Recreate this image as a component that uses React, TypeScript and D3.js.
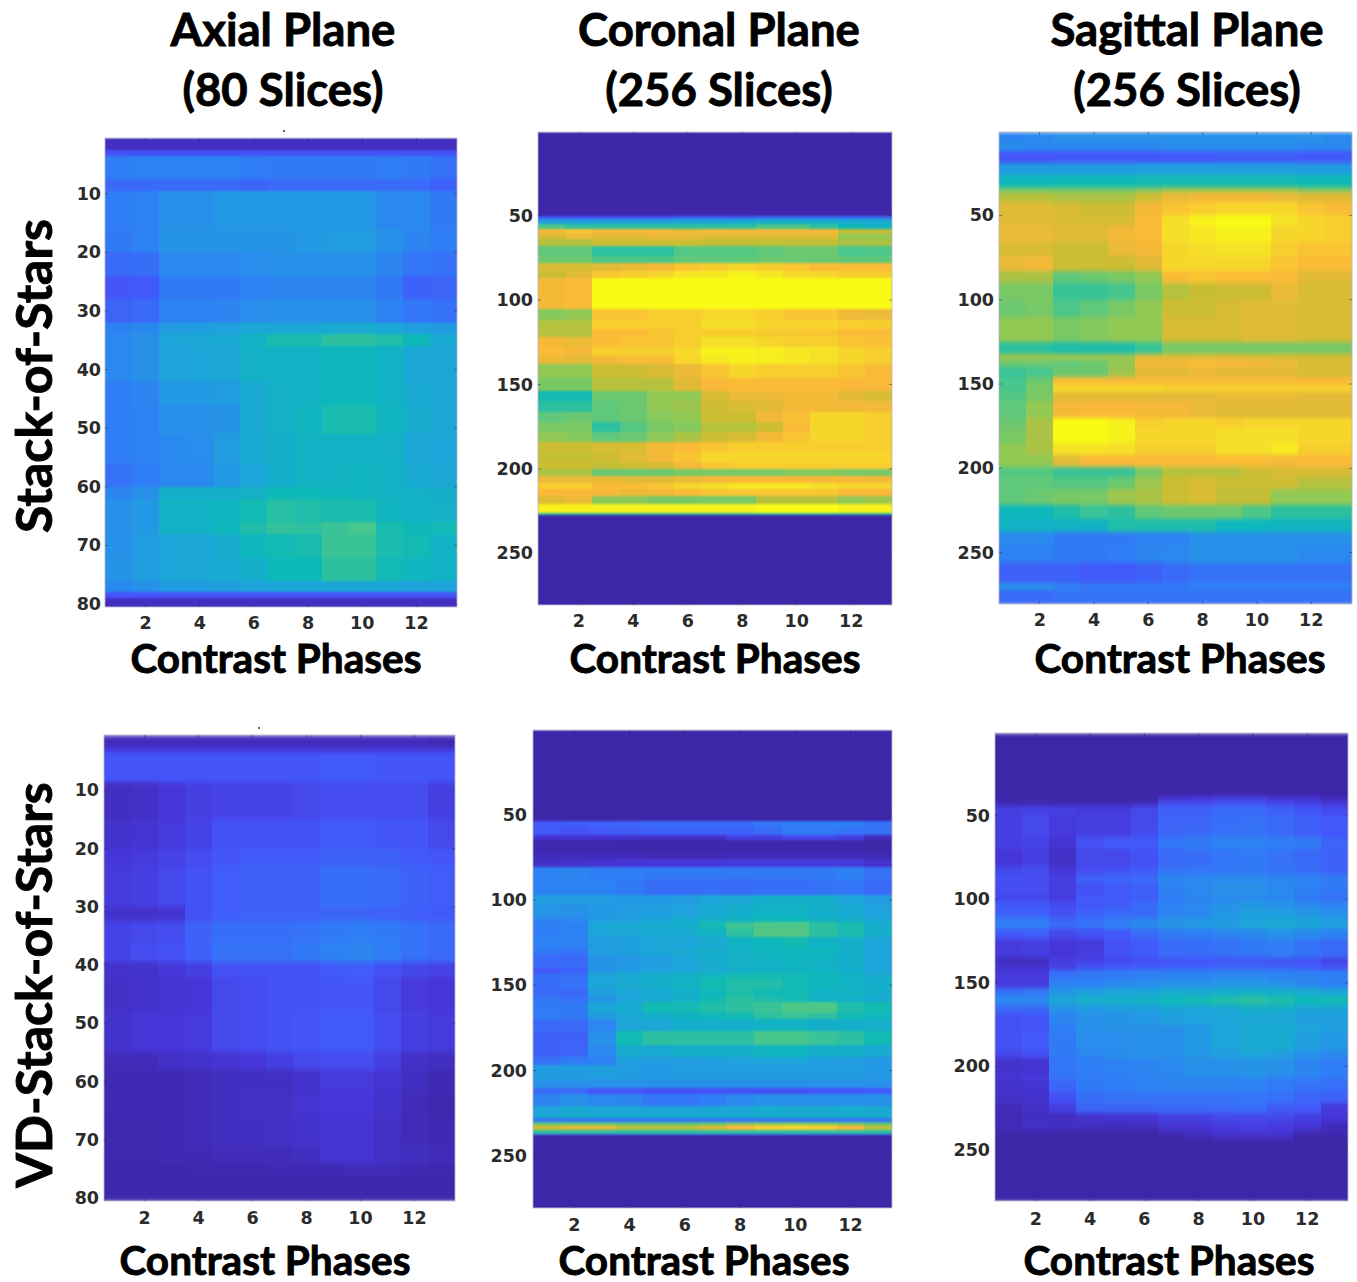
import React from "react";
import * as d3 from "d3";

// Each row: [last slice of the band, phase 1 … phase 13] with values on a 0–1 intensity scale
const phases = [1, 2, 3, 4, 5, 6, 7, 8, 9, 10, 11, 12, 13];
const phaseTicks = [2, 4, 6, 8, 10, 12];
const axialTicks = [10, 20, 30, 40, 50, 60, 70, 80];
const sliceTicks = [50, 100, 150, 200, 250];
const titleLines = [["Axial Plane", "(80 Slices)"], ["Coronal Plane", "(256 Slices)"], ["Sagittal Plane", "(256 Slices)"]];
const rowLabels = ["Stack-of-Stars", "VD-Stack-of-Stars"];
const xLabel = "Contrast Phases";

const axialSoS = [
  [2.5, .04,.04,.04,.04,.04,.04,.04,.04,.04,.04,.04,.04,.04],
  [3.5, .14,.14,.14,.14,.14,.14,.14,.14,.14,.14,.14,.14,.14],
  [7.5, .25,.26,.26,.26,.26,.25,.24,.24,.24,.24,.25,.24,.22],
  [9.5, .2,.2,.2,.2,.2,.19,.2,.2,.2,.2,.2,.2,.18],
  [16, .25,.26,.3,.3,.32,.32,.32,.32,.32,.32,.28,.28,.24],
  [20, .24,.26,.31,.31,.31,.31,.31,.32,.33,.33,.3,.27,.25],
  [24, .2,.21,.28,.28,.28,.29,.3,.3,.3,.3,.27,.23,.22],
  [28, .15,.16,.24,.24,.24,.26,.27,.27,.27,.27,.24,.18,.19],
  [32, .19,.2,.26,.26,.27,.29,.3,.3,.3,.3,.26,.23,.22],
  [34, .26,.28,.33,.34,.35,.37,.37,.37,.38,.38,.37,.34,.33],
  [36, .28,.3,.36,.37,.38,.42,.47,.47,.5,.5,.48,.45,.38],
  [42, .28,.3,.35,.36,.37,.41,.42,.42,.44,.44,.42,.37,.37],
  [46, .25,.27,.32,.32,.33,.38,.41,.42,.44,.44,.42,.38,.37],
  [51, .25,.26,.3,.3,.31,.38,.41,.43,.47,.47,.43,.39,.37],
  [56, .25,.26,.28,.29,.33,.38,.4,.42,.42,.42,.41,.37,.36],
  [60, .22,.25,.28,.28,.32,.36,.4,.42,.42,.43,.42,.38,.37],
  [62, .27,.3,.4,.4,.4,.41,.45,.45,.44,.43,.42,.41,.4],
  [66, .3,.32,.42,.42,.43,.46,.49,.48,.47,.47,.43,.42,.41],
  [68, .3,.32,.42,.42,.44,.48,.51,.5,.52,.54,.47,.45,.46],
  [72, .3,.33,.36,.37,.39,.44,.46,.47,.52,.52,.47,.46,.42],
  [76, .31,.33,.36,.37,.38,.4,.45,.45,.5,.5,.46,.43,.42],
  [78, .28,.3,.33,.33,.34,.35,.36,.36,.37,.37,.36,.35,.35],
  [79, .15,.15,.15,.15,.15,.15,.15,.15,.15,.15,.15,.15,.15],
  [80.5, .04,.04,.04,.04,.04,.04,.04,.04,.04,.04,.04,.04,.04],
];

const coronalSoS = [
  [50, 0,0,0,0,0,0,0,0,0,0,0,0,0],
  [52, .15,.15,.16,.16,.16,.18,.18,.18,.2,.2,.2,.2,.2],
  [55, .34,.34,.34,.34,.34,.36,.36,.38,.4,.4,.4,.38,.38],
  [58, .55,.5,.5,.5,.5,.5,.5,.5,.55,.55,.5,.45,.42],
  [61, .84,.88,.84,.84,.84,.82,.84,.84,.84,.84,.84,.74,.74],
  [64, .78,.82,.8,.8,.82,.82,.8,.8,.8,.8,.8,.66,.66],
  [68, .72,.72,.76,.76,.76,.76,.74,.74,.74,.74,.74,.7,.7],
  [74, .58,.58,.5,.5,.5,.56,.56,.56,.58,.6,.6,.54,.55],
  [78, .6,.6,.55,.55,.55,.58,.58,.58,.6,.6,.6,.58,.58],
  [83, .78,.78,.8,.82,.84,.88,.9,.92,.9,.88,.86,.86,.86],
  [87, .75,.8,.88,.9,.92,.96,.96,.98,.96,.93,.92,.9,.9],
  [105, .84,.86,1,1,1,1,1,1,1,1,1,1,1],
  [112, .64,.66,.88,.88,.9,.9,.92,.92,.9,.88,.88,.83,.82],
  [117, .72,.72,.9,.9,.9,.9,.94,.94,.92,.92,.92,.9,.9],
  [122, .72,.72,.86,.86,.88,.9,.9,.9,.89,.89,.88,.86,.86],
  [128, .84,.82,.86,.88,.88,.9,.94,.94,.92,.9,.9,.88,.87],
  [133, .86,.84,.9,.9,.9,.93,.98,.98,.97,.96,.95,.92,.9],
  [138, .82,.8,.84,.86,.86,.92,.96,.98,.97,.96,.94,.92,.9],
  [146, .66,.66,.76,.76,.78,.82,.88,.92,.9,.9,.9,.88,.86],
  [154, .62,.62,.72,.72,.72,.8,.85,.86,.86,.86,.86,.85,.85],
  [160, .46,.46,.6,.6,.66,.66,.78,.82,.82,.84,.84,.8,.78],
  [166, .5,.5,.58,.6,.66,.68,.76,.78,.8,.84,.84,.84,.84],
  [172, .58,.6,.58,.6,.64,.66,.76,.76,.84,.87,.92,.92,.9],
  [178, .62,.62,.5,.56,.62,.64,.72,.72,.76,.86,.92,.92,.9],
  [184, .66,.64,.58,.6,.65,.7,.76,.78,.84,.88,.92,.92,.9],
  [190, .76,.76,.78,.78,.84,.86,.88,.9,.9,.9,.9,.9,.9],
  [196, .74,.74,.76,.8,.84,.88,.92,.92,.92,.92,.92,.92,.92],
  [200, .76,.76,.74,.76,.78,.84,.88,.9,.9,.9,.9,.9,.9],
  [204, .7,.7,.6,.6,.6,.62,.62,.62,.62,.64,.64,.62,.62],
  [208, .82,.82,.82,.8,.8,.82,.85,.85,.85,.85,.85,.85,.84],
  [212, .9,.9,.86,.86,.88,.92,.94,.96,.96,.96,.94,.92,.92],
  [216, .85,.85,.85,.82,.84,.86,.88,.88,.88,.88,.88,.85,.85],
  [221, .8,.82,.65,.65,.62,.62,.62,.62,.72,.72,.72,.66,.68],
  [226, .98,.98,.98,.98,.98,.98,.98,.98,1,1,1,.98,.98],
  [227, .5,.5,.5,.5,.5,.5,.5,.5,.5,.5,.5,.5,.5],
  [280.5, 0,0,0,0,0,0,0,0,0,0,0,0,0],
];

const sagittalSoS = [
  [6, .26,.28,.3,.3,.3,.3,.3,.3,.3,.3,.3,.3,.28],
  [12, .29,.28,.28,.28,.28,.28,.29,.29,.29,.29,.29,.28,.28],
  [19, .15,.15,.16,.16,.16,.16,.16,.16,.17,.17,.17,.16,.16],
  [26, .33,.33,.33,.33,.33,.34,.34,.34,.34,.34,.34,.33,.33],
  [33, .44,.44,.45,.45,.45,.46,.46,.46,.46,.46,.46,.45,.45],
  [36, .6,.6,.6,.6,.6,.62,.66,.66,.66,.66,.66,.62,.62],
  [42, .72,.72,.7,.7,.7,.76,.82,.84,.84,.84,.82,.8,.8],
  [50, .8,.8,.78,.76,.76,.84,.88,.9,.92,.92,.92,.88,.86],
  [56, .8,.8,.78,.78,.78,.86,.94,.98,1,1,.95,.92,.9],
  [66, .82,.82,.8,.8,.84,.86,.94,.96,.98,.98,.92,.92,.9],
  [74, .78,.78,.76,.76,.82,.84,.92,.94,.95,.95,.9,.88,.88],
  [83, .82,.84,.76,.76,.76,.8,.92,.92,.92,.92,.88,.86,.86],
  [90, .7,.7,.58,.6,.62,.66,.86,.88,.86,.86,.86,.8,.8],
  [100, .62,.62,.52,.52,.54,.62,.72,.75,.76,.76,.82,.78,.78],
  [110, .6,.62,.55,.58,.62,.66,.76,.76,.78,.8,.8,.78,.78],
  [125, .66,.66,.62,.64,.66,.66,.78,.78,.78,.8,.8,.78,.78],
  [132, .5,.5,.48,.48,.48,.52,.62,.62,.62,.62,.62,.62,.62],
  [136, .68,.68,.68,.68,.68,.8,.8,.8,.8,.78,.78,.78,.78],
  [140, .6,.6,.58,.6,.66,.84,.84,.86,.85,.84,.82,.78,.78],
  [146, .52,.54,.6,.6,.68,.8,.8,.82,.8,.8,.8,.78,.78],
  [150, .54,.6,.86,.86,.85,.85,.85,.85,.85,.85,.85,.85,.85],
  [155, .54,.62,.92,.92,.92,.92,.9,.9,.9,.9,.9,.9,.9],
  [160, .56,.62,.8,.8,.8,.8,.8,.8,.82,.82,.82,.8,.8],
  [170, .58,.66,.84,.85,.85,.84,.84,.82,.8,.8,.8,.8,.8],
  [176, .6,.7,1,1,.98,.9,.92,.92,.9,.92,.92,.92,.92],
  [185, .62,.7,1,1,.98,.92,.92,.92,.94,.94,.94,.92,.92],
  [192, .66,.7,.95,.95,.94,.9,.9,.9,.94,.94,.96,.9,.9],
  [199, .66,.66,.8,.85,.85,.86,.86,.86,.86,.86,.84,.86,.86],
  [205, .56,.56,.52,.52,.52,.62,.72,.72,.72,.76,.78,.78,.78],
  [212, .58,.58,.56,.56,.6,.68,.76,.78,.76,.76,.76,.72,.72],
  [222, .58,.6,.62,.62,.68,.7,.76,.78,.74,.74,.66,.66,.66],
  [230, .44,.44,.48,.52,.5,.58,.6,.6,.6,.55,.5,.5,.5],
  [238, .42,.42,.42,.42,.48,.48,.48,.48,.44,.44,.43,.43,.43],
  [246, .28,.28,.24,.24,.24,.26,.26,.3,.3,.3,.3,.3,.3],
  [256, .26,.26,.24,.24,.25,.27,.28,.3,.3,.3,.3,.28,.28],
  [268, .18,.18,.18,.16,.16,.18,.2,.22,.22,.22,.22,.22,.22],
  [272, .3,.3,.26,.24,.24,.24,.24,.26,.26,.26,.26,.26,.26],
  [280.5, .2,.2,.22,.22,.22,.22,.22,.22,.22,.22,.22,.22,.22],
];

const axialVD = [
  [2.5, .03,.03,.03,.03,.03,.03,.03,.03,.03,.03,.03,.03,.02],
  [3.5, .08,.08,.08,.08,.08,.08,.08,.08,.08,.08,.08,.08,.08],
  [8.5, .15,.15,.15,.15,.15,.15,.15,.15,.16,.16,.15,.15,.15],
  [15, .04,.05,.08,.1,.11,.11,.11,.12,.13,.13,.13,.13,.1],
  [20, .06,.07,.09,.11,.14,.14,.14,.14,.16,.16,.15,.15,.12],
  [23, .08,.09,.11,.13,.15,.16,.16,.16,.18,.18,.18,.16,.15],
  [30, .09,.1,.12,.14,.17,.18,.18,.18,.21,.21,.2,.18,.17],
  [32.5, .06,.06,.07,.14,.17,.18,.18,.18,.19,.19,.18,.17,.16],
  [36, .11,.12,.13,.18,.21,.21,.21,.22,.24,.25,.24,.22,.2],
  [39.5, .11,.13,.14,.18,.22,.22,.22,.24,.26,.27,.25,.22,.2],
  [42, .06,.06,.08,.1,.14,.14,.14,.14,.16,.17,.14,.12,.11],
  [48, .05,.06,.07,.08,.12,.13,.14,.14,.15,.15,.12,.09,.08],
  [55, .06,.08,.08,.09,.12,.13,.14,.15,.16,.16,.13,.1,.09],
  [58, .03,.03,.05,.06,.07,.08,.1,.12,.13,.13,.1,.05,.04],
  [62, .02,.02,.02,.03,.04,.04,.04,.06,.09,.09,.07,.04,.02],
  [66, .02,.02,.02,.03,.04,.05,.05,.07,.08,.08,.06,.03,.01],
  [71, .01,.01,.02,.03,.04,.04,.05,.06,.07,.07,.05,.03,.02],
  [74, .01,.01,.02,.02,.03,.03,.03,.04,.07,.07,.05,.04,.03],
  [76, .005,.005,.005,.01,.01,.01,.02,.02,.02,.03,.03,.02,.01],
  [80.5, .005,.005,.005,.005,.005,.005,.005,.005,.005,.005,.005,.005,.005],
];

const coronalVD = [
  [54, 0,0,0,0,0,0,0,0,0,0,0,0,0],
  [58, .16,.17,.18,.19,.2,.2,.2,.2,.23,.25,.25,.25,.22],
  [62, .16,.14,.16,.17,.18,.18,.18,.18,.2,.24,.24,.22,.22],
  [65, .07,.07,.07,.06,.05,.05,.05,.1,.1,.12,.12,.1,.04],
  [72, .01,.01,.01,.005,.005,.005,.005,.01,.01,.01,.01,.01,0],
  [76, .03,.03,.03,.03,.02,.02,.02,.03,.03,.03,.03,.03,.02],
  [81, .05,.06,.07,.08,.08,.08,.08,.09,.09,.09,.09,.09,.06],
  [88, .26,.27,.25,.25,.24,.24,.24,.24,.24,.24,.24,.26,.22],
  [97, .26,.26,.26,.24,.21,.21,.21,.2,.21,.21,.22,.23,.2],
  [103, .33,.33,.33,.32,.32,.33,.36,.37,.4,.4,.4,.36,.33],
  [110, .31,.3,.32,.33,.34,.35,.38,.4,.42,.42,.4,.38,.35],
  [113, .27,.28,.33,.34,.36,.38,.4,.42,.44,.45,.42,.4,.37],
  [117, .25,.26,.37,.38,.39,.4,.46,.52,.55,.55,.5,.47,.4],
  [122, .25,.26,.36,.37,.38,.38,.42,.5,.56,.56,.5,.47,.4],
  [128, .26,.26,.33,.34,.36,.36,.38,.42,.44,.46,.42,.4,.36],
  [132, .24,.23,.34,.35,.37,.38,.4,.41,.44,.44,.44,.4,.36],
  [140, .2,.2,.31,.32,.34,.36,.39,.41,.42,.43,.42,.4,.36],
  [143, .15,.18,.31,.33,.35,.36,.38,.4,.41,.42,.42,.4,.36],
  [146, .2,.21,.36,.38,.4,.42,.43,.46,.46,.46,.44,.42,.38],
  [152, .21,.22,.36,.38,.4,.42,.46,.48,.48,.46,.44,.42,.4],
  [157, .2,.2,.34,.36,.38,.4,.44,.48,.46,.46,.42,.42,.4],
  [160, .24,.22,.3,.36,.38,.4,.46,.5,.48,.46,.42,.4,.38],
  [166, .24,.24,.36,.38,.46,.46,.48,.5,.52,.55,.55,.48,.46],
  [170, .25,.24,.33,.37,.4,.42,.44,.46,.5,.52,.5,.46,.44],
  [177, .2,.2,.27,.36,.37,.4,.4,.4,.42,.42,.4,.4,.4],
  [185, .18,.18,.3,.46,.5,.5,.5,.5,.54,.54,.52,.5,.46],
  [192, .18,.19,.28,.39,.38,.4,.4,.4,.43,.43,.4,.4,.38],
  [197, .22,.25,.26,.34,.33,.33,.34,.35,.36,.36,.34,.33,.32],
  [205, .33,.33,.34,.33,.32,.33,.33,.33,.33,.33,.33,.33,.32],
  [210, .3,.3,.3,.3,.3,.3,.3,.3,.3,.3,.3,.3,.3],
  [214, .2,.2,.15,.15,.14,.14,.14,.14,.14,.14,.15,.15,.16],
  [221, .27,.3,.28,.27,.23,.23,.25,.28,.3,.3,.3,.3,.3],
  [226, .35,.38,.36,.36,.36,.37,.37,.37,.39,.38,.38,.39,.38],
  [228, .4,.4,.4,.4,.4,.4,.4,.4,.4,.4,.4,.4,.4],
  [230, .22,.22,.22,.22,.22,.22,.22,.22,.22,.22,.22,.22,.22],
  [232, .55,.55,.55,.55,.55,.55,.55,.6,.6,.6,.6,.58,.55],
  [235, .76,.8,.8,.72,.72,.72,.78,.85,.9,.92,.9,.84,.72],
  [237, .5,.5,.5,.5,.5,.5,.5,.5,.5,.5,.5,.5,.5],
  [238, .2,.2,.2,.2,.2,.2,.2,.2,.2,.2,.2,.2,.2],
  [280.5, 0,0,0,0,0,0,0,0,0,0,0,0,0],
];

const sagittalVD = [
  [38, 0,0,0,0,0,0,0,0,0,0,0,0,0],
  [41, 0,0,0,0,0,0,.06,.08,.1,.1,.07,.07,.03],
  [44, .02,.02,.02,.02,.02,.04,.13,.13,.14,.14,.12,.1,.08],
  [50, .1,.11,.1,.09,.09,.12,.18,.18,.2,.2,.18,.15,.13],
  [58, .1,.12,.09,.1,.1,.12,.19,.19,.21,.22,.2,.18,.16],
  [63, .1,.12,.09,.1,.1,.13,.19,.2,.22,.22,.2,.17,.15],
  [70, .1,.11,.07,.14,.16,.16,.23,.24,.26,.26,.25,.24,.19],
  [80, .08,.1,.05,.12,.12,.14,.2,.21,.23,.24,.22,.2,.18],
  [85, .12,.13,.08,.13,.14,.16,.22,.23,.23,.24,.22,.21,.18],
  [90, .14,.13,.1,.18,.19,.2,.27,.27,.28,.28,.27,.26,.24],
  [97, .13,.13,.1,.14,.16,.18,.26,.28,.3,.3,.28,.26,.24],
  [101, .12,.12,.09,.15,.16,.17,.24,.26,.28,.28,.28,.24,.22],
  [106, .16,.16,.13,.16,.17,.2,.26,.28,.3,.32,.3,.28,.26],
  [111, .18,.18,.14,.18,.2,.2,.27,.28,.32,.34,.34,.32,.3],
  [118, .25,.25,.2,.22,.25,.28,.31,.32,.33,.36,.37,.36,.34],
  [124, .16,.17,.12,.14,.16,.2,.24,.25,.27,.28,.3,.28,.26],
  [132, .09,.1,.08,.09,.14,.16,.2,.21,.22,.24,.25,.22,.2],
  [135, .09,.1,.08,.1,.14,.16,.2,.2,.21,.22,.24,.22,.2],
  [138, .03,.03,.1,.1,.12,.13,.14,.15,.15,.15,.14,.14,.1],
  [142, .06,.06,.1,.14,.15,.16,.17,.17,.18,.18,.18,.16,.14],
  [148, .09,.09,.22,.24,.25,.26,.27,.27,.28,.28,.27,.26,.25],
  [153, .09,.09,.26,.26,.28,.29,.3,.3,.32,.32,.3,.28,.26],
  [158, .22,.24,.32,.34,.36,.36,.38,.38,.4,.4,.4,.38,.36],
  [163, .28,.28,.36,.4,.4,.42,.44,.46,.48,.5,.48,.45,.46],
  [168, .2,.2,.3,.32,.33,.34,.36,.36,.37,.4,.4,.36,.36],
  [175, .14,.15,.27,.3,.31,.32,.34,.35,.36,.37,.37,.34,.34],
  [180, .14,.15,.25,.3,.3,.3,.3,.32,.36,.38,.38,.36,.34],
  [190, .14,.16,.24,.29,.29,.3,.3,.32,.36,.38,.38,.34,.32],
  [195, .12,.14,.24,.27,.29,.3,.3,.32,.34,.36,.34,.3,.28],
  [205, .06,.07,.23,.25,.26,.27,.28,.3,.3,.31,.3,.27,.25],
  [208, .08,.09,.22,.24,.25,.26,.27,.28,.28,.29,.27,.26,.24],
  [215, .06,.07,.19,.24,.25,.26,.27,.27,.27,.26,.24,.22,.21],
  [222, .05,.06,.14,.21,.22,.22,.22,.22,.22,.23,.22,.19,.18],
  [228, .03,.05,.1,.19,.19,.19,.2,.2,.2,.21,.17,.16,.09],
  [233, .02,.04,.04,.06,.07,.07,.1,.1,.12,.12,.12,.1,.08],
  [238, .03,.05,.04,.04,.03,.04,.07,.07,.09,.1,.09,.08,.03],
  [241, .005,.01,.005,.005,.005,.005,.03,.05,.08,.08,.08,.02,.02],
  [244, 0,0,0,0,0,0,0,.02,.04,.04,.04,0,0],
  [280.5, 0,0,0,0,0,0,0,0,0,0,0,0,0],
];

const parulaStops = [0, .08, .15, .25, .35, .45, .55, .65, .75, .85, .95, 1];
const parulaColors = ["#3e26a8", "#4636d8", "#4455fa", "#2f7ef6", "#1ea3dc", "#0cb9b8", "#4dc788", "#8cc958", "#c8bd32", "#fab839", "#f5e326", "#f9fb15"];
const color = d3.scaleLinear<string>().domain(parulaStops).range(parulaColors).clamp(true);

const panels = [
  { id: "a", bands: axialSoS, ticks: axialTicks, yMax: 80.5, blur: "0.5 1.2", x0: 105, x1: 457, y0: 138, y1: 607, tickX: 101, xTickY: 623, label: [276, 657] },
  { id: "b", bands: coronalSoS, ticks: sliceTicks, yMax: 280.5, blur: "0.5 0.9", x0: 538, x1: 892, y0: 132, y1: 605, tickX: 533, xTickY: 621, label: [715, 657] },
  { id: "c", bands: sagittalSoS, ticks: sliceTicks, yMax: 280.5, blur: "0.5 2", x0: 999, x1: 1352, y0: 132, y1: 604, tickX: 994, xTickY: 620, label: [1180, 657] },
  { id: "d", bands: axialVD, ticks: axialTicks, yMax: 80.5, blur: "0.6 2.4", x0: 104, x1: 455, y0: 735, y1: 1201, tickX: 99, xTickY: 1218, label: [265, 1259] },
  { id: "e", bands: coronalVD, ticks: sliceTicks, yMax: 280.5, blur: "0.5 1", x0: 533, x1: 892, y0: 730, y1: 1208, tickX: 527, xTickY: 1225, label: [704, 1259] },
  { id: "f", bands: sagittalVD, ticks: sliceTicks, yMax: 280.5, blur: "0.6 2", x0: 995, x1: 1348, y0: 733, y1: 1201, tickX: 990, xTickY: 1219, label: [1169, 1259] },
];

const headFont = "Lato, 'Open Sans', sans-serif";
const tickFont = "'DejaVu Sans', sans-serif";
const heavy = { stroke: "#000", strokeWidth: 0.9, paintOrder: "stroke" } as const;

function Panel({ p }: { p: (typeof panels)[number] }) {
  const x = d3.scaleLinear().domain([0.5, 13.5]).range([p.x0, p.x1]);
  const y = d3.scaleLinear().domain([0.5, p.yMax]).range([p.y0, p.y1]);
  return (
    <g>
      <clipPath id={`clip-${p.id}`}>
        <rect x={p.x0} y={p.y0} width={p.x1 - p.x0} height={p.y1 - p.y0} />
      </clipPath>
      <filter id={`soft-${p.id}`} x="0" y="0" width="100%" height="100%" colorInterpolationFilters="sRGB">
        <feGaussianBlur stdDeviation={p.blur} edgeMode="duplicate" />
      </filter>
      <g clipPath={`url(#clip-${p.id})`}>
        <g filter={`url(#soft-${p.id})`} shapeRendering="crispEdges">
          {p.bands.map((b, i) => {
            const start = i === 0 ? 0.5 : p.bands[i - 1][0];
            return phases.map((ph) => (
              <rect
                key={`${i}-${ph}`}
                x={x(ph - 0.5)}
                y={y(start)}
                width={x(ph + 0.5) - x(ph - 0.5) + 1}
                height={y(b[0]) - y(start) + 1}
                fill={color(b[ph])}
              />
            ));
          })}
        </g>
      </g>
      <rect x={p.x0} y={p.y0} width={p.x1 - p.x0} height={p.y1 - p.y0} fill="none" stroke="#b4b4c4" strokeWidth={0.8} />
      {phaseTicks.map((t) => (
        <g key={t}>
          <line x1={x(t)} x2={x(t)} y1={p.y1} y2={p.y1 - 3} stroke="#333" strokeOpacity={0.5} />
          <line x1={x(t)} x2={x(t)} y1={p.y0} y2={p.y0 + 3} stroke="#333" strokeOpacity={0.5} />
          <text x={x(t)} y={p.xTickY} textAnchor="middle" dominantBaseline="central" fontFamily={tickFont} fontWeight={700} fontSize={17.5} fill="#2b2b2b">{t}</text>
        </g>
      ))}
      {p.ticks.map((t) => (
        <g key={t}>
          <line x1={p.x0} x2={p.x0 + 3} y1={y(t)} y2={y(t)} stroke="#333" strokeOpacity={0.5} />
          <line x1={p.x1} x2={p.x1 - 3} y1={y(t)} y2={y(t)} stroke="#333" strokeOpacity={0.5} />
          <text x={p.tickX} y={y(t)} textAnchor="end" dominantBaseline="central" fontFamily={tickFont} fontWeight={700} fontSize={17.5} fill="#2b2b2b">{t}</text>
        </g>
      ))}
      <text x={p.label[0]} y={p.label[1]} textAnchor="middle" dominantBaseline="central" fontFamily={headFont} fontWeight={700} fontSize={40.5} fill="#000" {...heavy}>{xLabel}</text>
    </g>
  );
}

export default function App() {
  const titleX = [283, 719, 1187];
  return (
    <svg width={1357} height={1282} style={{ position: "absolute", left: 0, top: 0, background: "#fff" }}>
      {titleLines.map((lines, i) =>
        lines.map((l, j) => (
          <text key={l + i} x={titleX[i]} y={28 + j * 60} textAnchor="middle" dominantBaseline="central" fontFamily={headFont} fontWeight={700} fontSize={45.5} fill="#000" {...heavy}>{l}</text>
        ))
      )}
      {rowLabels.map((l, i) => (
        <text key={l} transform={`translate(${33},${i === 0 ? 376 : 985}) rotate(-90)`} textAnchor="middle" dominantBaseline="central" fontFamily={headFont} fontWeight={700} fontSize={50} fill="#000" {...heavy}>{l}</text>
      ))}
      {panels.map((p) => <Panel key={p.id} p={p} />)}
      <circle cx={284} cy={131} r={0.9} fill="#222" />
      <circle cx={259} cy={728} r={0.9} fill="#222" />
    </svg>
  );
}
